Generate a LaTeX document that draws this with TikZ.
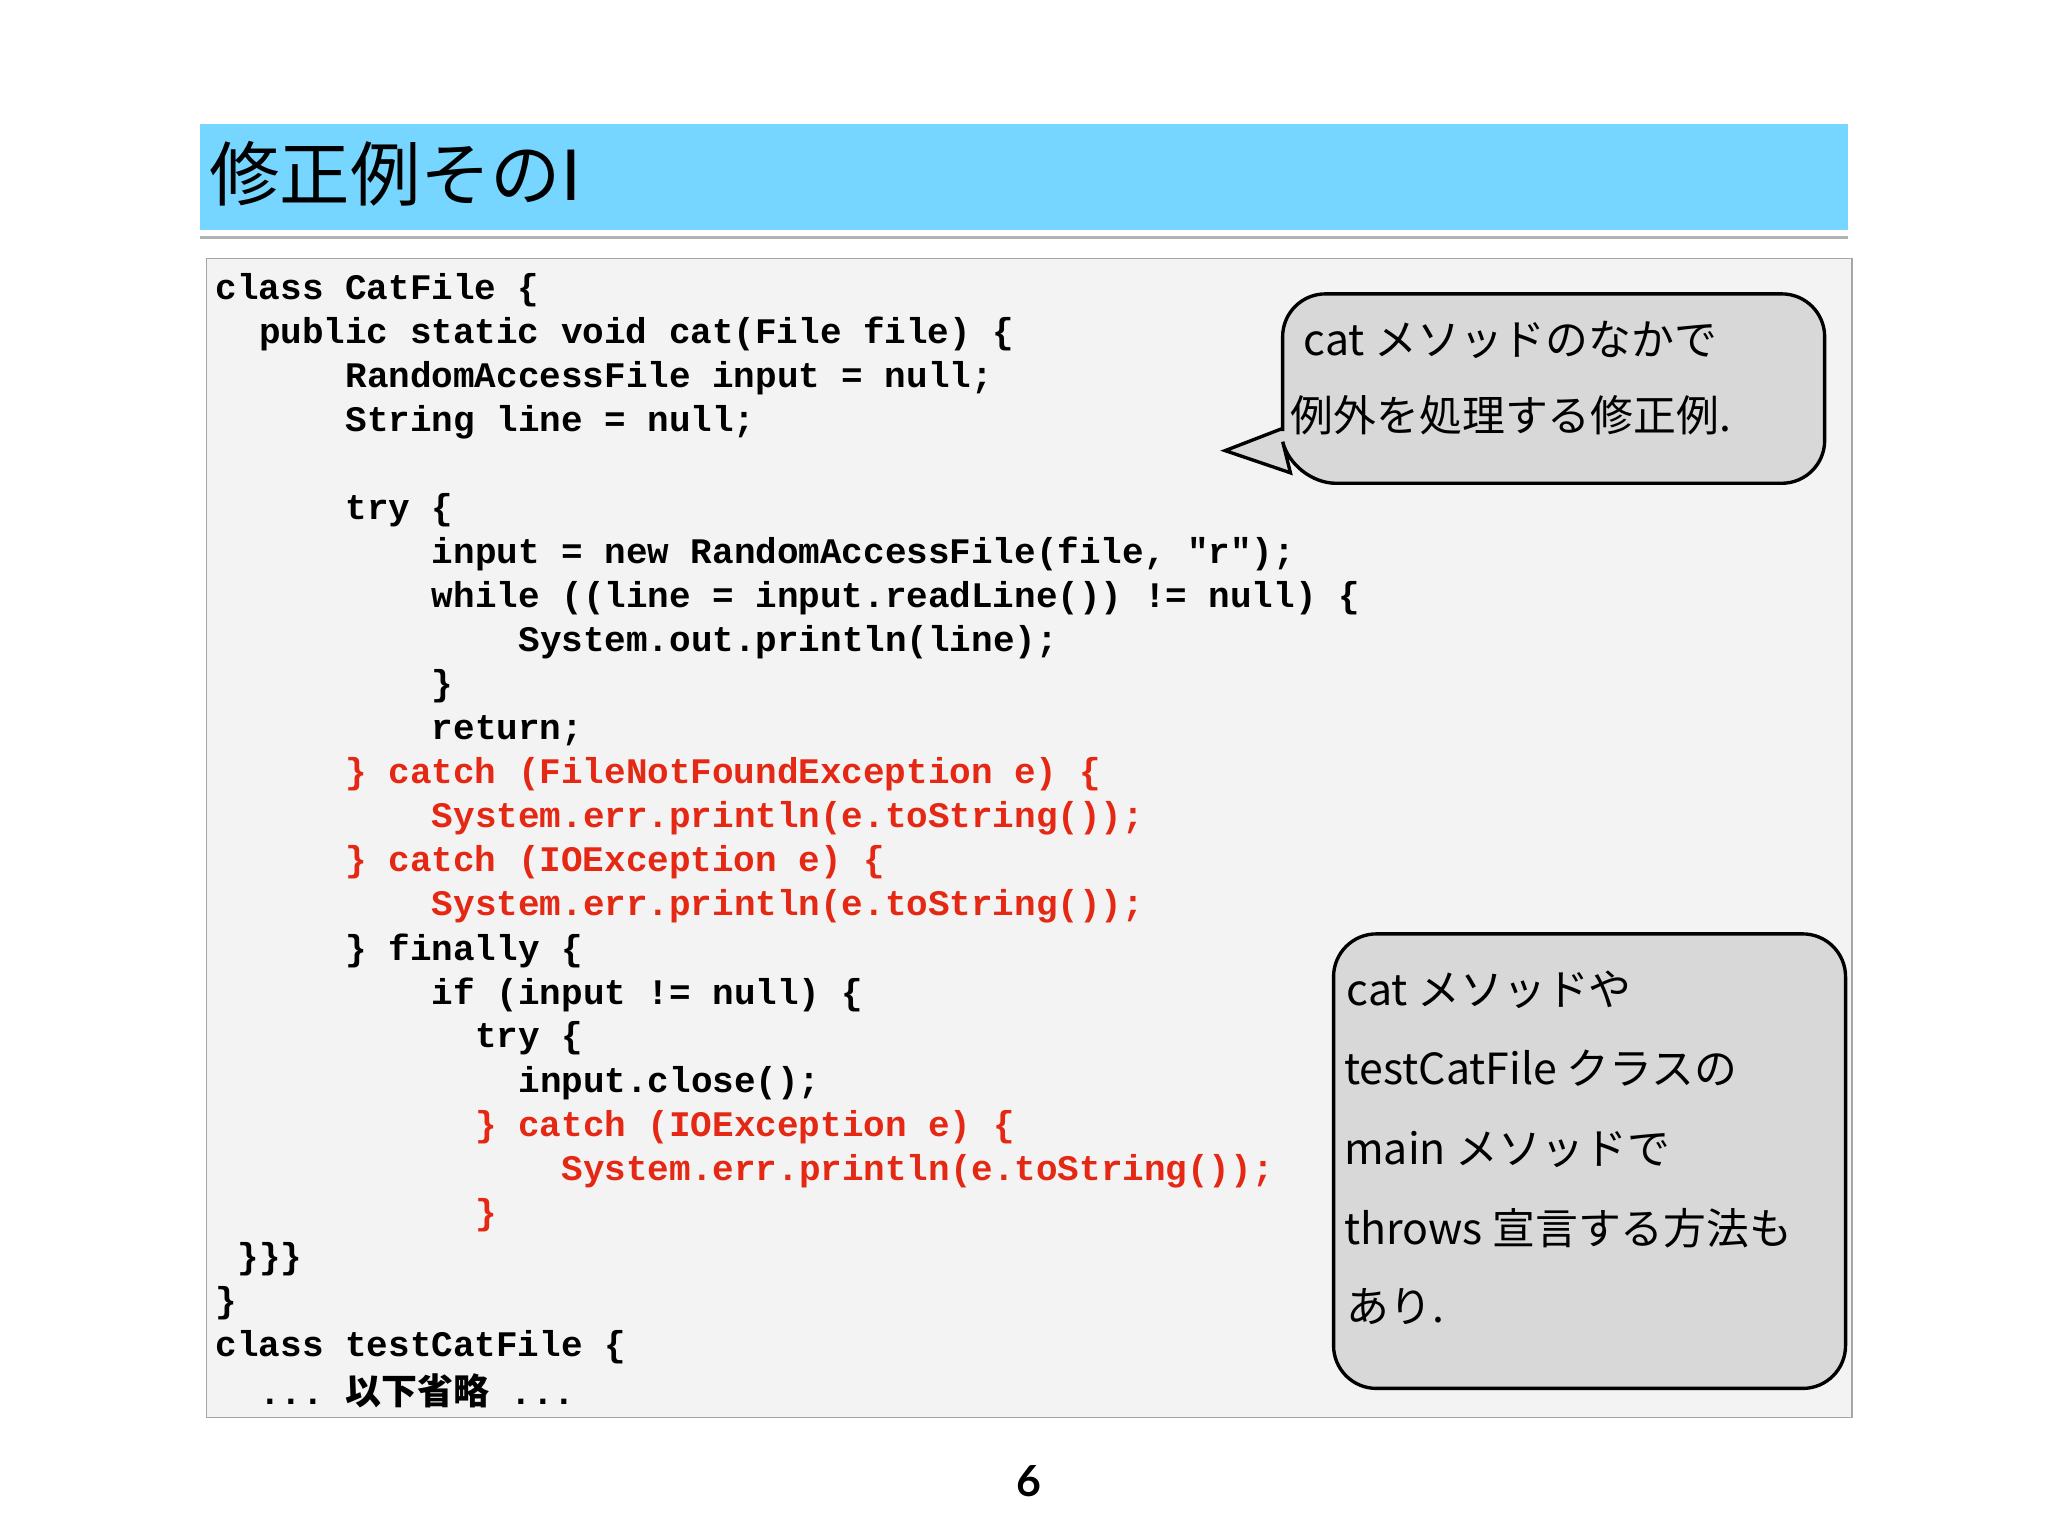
\documentclass[tikz,border=0pt]{standalone}
\usepackage{fontspec}
\setmainfont{Lato}
\newfontfamily\cjk{Noto Sans CJK JP}
\newfontfamily\cjkb{Noto Sans CJK JP Bold}
\setmonofont{Liberation Mono}
\definecolor{titlebg}{RGB}{118,214,255}
\definecolor{codebg}{RGB}{243,243,243}
\definecolor{codered}{RGB}{228,40,20}
\definecolor{callbg}{RGB}{216,216,216}
\tikzset{
  code/.style={anchor=west,inner sep=0pt,font=\fontsize{23.5pt}{26pt}\ttfamily\bfseries},
  red/.style={code,text=codered},
  ctext/.style={anchor=west,inner sep=0pt,font=\fontsize{28pt}{32pt}\cjk},
  callout/.style={fill=callbg,draw=black,line width=2.2pt}
}
\begin{document}
\begin{tikzpicture}[x=0.03cm,y=-0.03cm]
\useasboundingbox[fill=white] (0,0) rectangle (1568,1176);
\fill[titlebg] (153,95) rectangle (1415,176);
\draw[gray!60,line width=2pt] (153,182) -- (1415,182);
\node[anchor=west,inner sep=0pt,font=\fontsize{46pt}{50pt}\cjk] (title) at (160,133) {修正例その\textsf{\fontspec{Lato}I}};
\draw[fill=codebg,draw=gray!70,line width=0.8pt] (158,198) rectangle (1418,1085);
\def\cx#1{\fpeval{165+16.55*#1}}
\def\ly#1{\fpeval{222+33.72*#1}}
\node[code] (l0) at (\cx{0},\ly{0}) {class CatFile \{};
\node[code] (l1) at (\cx{2},\ly{1}) {public static void cat(File file) \{};
\node[code] (l2) at (\cx{6},\ly{2}) {RandomAccessFile input = null;};
\node[code] (l3) at (\cx{6},\ly{3}) {String line = null;};
\node[code] (l5) at (\cx{6},\ly{5}) {try \{};
\node[code] (l6) at (\cx{10},\ly{6}) {input = new RandomAccessFile(file, "r");};
\node[code] (l7) at (\cx{10},\ly{7}) {while ((line = input.readLine()) != null) \{};
\node[code] (l8) at (\cx{14},\ly{8}) {System.out.println(line);};
\node[code] (l9) at (\cx{10},\ly{9}) {\}};
\node[code] (l10) at (\cx{10},\ly{10}) {return;};
\node[red] (l11) at (\cx{6},\ly{11}) {\} catch (FileNotFoundException e) \{};
\node[red] (l12) at (\cx{10},\ly{12}) {System.err.println(e.toString());};
\node[red] (l13) at (\cx{6},\ly{13}) {\} catch (IOException e) \{};
\node[red] (l14) at (\cx{10},\ly{14}) {System.err.println(e.toString());};
\node[code] (l15) at (\cx{6},\ly{15}) {\} finally \{};
\node[code] (l16) at (\cx{10},\ly{16}) {if (input != null) \{};
\node[code] (l17) at (\cx{12},\ly{17}) {try \{};
\node[code] (l18) at (\cx{14},\ly{18}) {input.close();};
\node[red] (l19) at (\cx{12},\ly{19}) {\} catch (IOException e) \{};
\node[red] (l20) at (\cx{16},\ly{20}) {System.err.println(e.toString());};
\node[red] (l21) at (\cx{12},\ly{21}) {\}};
\node[code] (l22) at (\cx{1},\ly{22}) {\}\}\}};
\node[code] (l23) at (\cx{0},\ly{23}) {\}};
\node[code] (l24) at (\cx{0},\ly{24}) {class testCatFile \{};
\node[code] (l25) at (\cx{2},\ly{25}) {... {\cjkb 以下省略} ...};
% callout 1
\draw[callout,rounded corners=28] (982,330) -- (982,225) -- (1397,225) -- (1397,370) -- (990,370) [sharp corners] -- (988,362) -- (938,345) -- (982,328) -- cycle;
\node[ctext] (c1a) at (998,260) {cat メソッドのなかで};
\node[ctext] (c1b) at (988,318) {例外を処理する修正例.};
% callout 2
\draw[callout,rounded corners=28] (1021,715) rectangle (1413,1063);
\node[ctext] (c2a) at (1031,758) {cat メソッドや};
\node[ctext] (c2b) at (1029,818) {testCatFile クラスの};
\node[ctext] (c2c) at (1029,880) {main メソッドで};
\node[ctext] (c2d) at (1029,940) {throws 宣言する方法も};
\node[ctext] (c2e) at (1031,1000) {あり.};
\node[inner sep=0pt,font=\fontsize{28pt}{30pt}\bfseries] (pg) at (788,1134) {6};
\end{tikzpicture}
\end{document}
